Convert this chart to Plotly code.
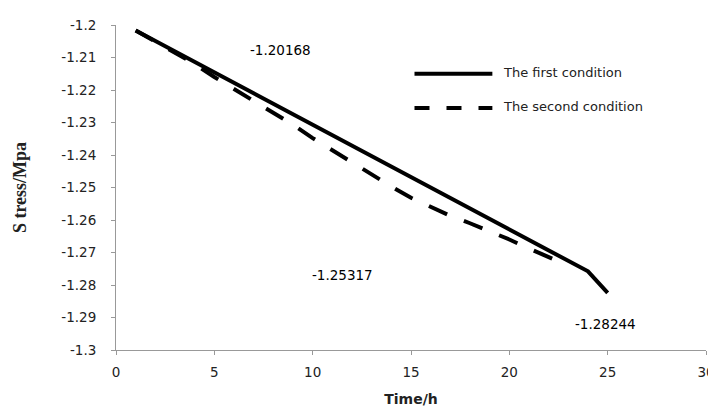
import plotly.graph_objects as go

# Data
time_first = [1, 2, 3, 4, 5, 6, 7, 8, 9, 10, 11, 12, 13, 14, 15, 16, 17, 18, 19, 20, 21, 22, 23, 24, 25]
stress_first = [-1.20168, -1.2049, -1.2081, -1.2113, -1.2146, -1.2178, -1.2210, -1.2242, -1.2274,
                -1.2306, -1.2339, -1.2371, -1.2403, -1.2435, -1.2467, -1.2499, -1.2531, -1.2563,
                -1.2595, -1.2628, -1.2660, -1.2692, -1.2724, -1.2758, -1.28244]

time_second = [1, 2, 3, 4, 5, 6, 7, 8, 9, 10, 11, 12, 13, 14, 15, 16, 17, 18, 19, 20, 21, 22, 23]
stress_second = [-1.20168, -1.2052, -1.2085, -1.2120, -1.2160, -1.2196, -1.2233, -1.2270, -1.2307,
                 -1.2348, -1.2386, -1.2424, -1.2461, -1.2497, -1.25317, -1.2560, -1.2587, -1.2610,
                 -1.2634, -1.2660, -1.2688, -1.2714, -1.2740]

series_names = ["The first condition", "The second condition"]
x_ticks = [0, 5, 10, 15, 20, 25, 30]
y_ticks = [-1.2, -1.21, -1.22, -1.23, -1.24, -1.25, -1.26, -1.27, -1.28, -1.29, -1.3]
y_tick_labels = ["-1.2", "-1.21", "-1.22", "-1.23", "-1.24", "-1.25", "-1.26", "-1.27", "-1.28", "-1.29", "-1.3"]

value_labels = ["-1.20168", "-1.25317", "-1.28244"]
value_label_x = [8.37, 11.52, 24.9]
value_label_y = [-1.2078, -1.2768, -1.2921]

FONT = "DejaVu Sans"
TXT = "#222"

fig = go.Figure()
fig.add_trace(go.Scatter(x=time_first, y=stress_first, mode="lines", name=series_names[0],
                         line=dict(color="black", width=4), showlegend=False))
fig.add_trace(go.Scatter(x=time_second, y=stress_second, mode="lines", name=series_names[1],
                         line=dict(color="black", width=4, dash="20px,18px"), showlegend=False))

for ax, ay, txt in zip(value_label_x, value_label_y, value_labels):
    fig.add_annotation(x=ax, y=ay, xref="x", yref="y", text=txt, showarrow=False,
                       font=dict(family=FONT, size=13.5, color="black"))

# page body has an 8px margin: plot area target is x 116..707, y 17..350 in the window
W, H = 716, 414
OFF = 8
L, R, T, B = 108, 17, 9, 72
pw, ph = W - L - R, H - T - B
def px(xw):
    return (xw - OFF - L) / pw
def py(yw):
    return 1 - (yw - OFF - T) / ph

# custom legend with long sample lines
fig.add_shape(type="line", xref="paper", yref="paper", x0=px(415), x1=px(493), y0=py(67), y1=py(67),
              line=dict(color="black", width=4))
fig.add_shape(type="line", xref="paper", yref="paper", x0=px(415), x1=px(493), y0=py(102), y1=py(102),
              line=dict(color="black", width=4, dash="15px,17px"))
for yw, name in zip([66, 101], series_names):
    fig.add_annotation(x=px(502), y=py(yw), xref="paper", yref="paper", text=name, showarrow=False,
                       xanchor="left", yanchor="middle", font=dict(family=FONT, size=13, color=TXT))

fig.update_layout(
    width=W, height=H,
    margin=dict(l=L, r=R, t=T, b=B),
    paper_bgcolor="white", plot_bgcolor="white",
    showlegend=False,
    font=dict(family=FONT, size=13, color=TXT),
)
fig.update_xaxes(range=[0, 30], tickvals=x_ticks, showgrid=False, zeroline=False,
                 showline=True, linecolor="#999", linewidth=1, ticks="outside", tickcolor="#999",
                 ticklen=4, ticklabelstandoff=6, tickfont=dict(family=FONT, size=13.5, color=TXT),
                 title=dict(text="<b>Time/h</b>", font=dict(family=FONT, size=14, color=TXT), standoff=14))
fig.update_yaxes(range=[-1.3, -1.2], tickvals=y_ticks, ticktext=y_tick_labels, showgrid=False,
                 zeroline=False, showline=True, linecolor="#999", linewidth=1, ticks="outside",
                 tickcolor="#999", ticklen=4, ticklabelstandoff=12,
                 tickfont=dict(family=FONT, size=13.5, color=TXT),
                 title=dict(text="<b>S tress/Mpa</b>",
                            font=dict(family="Liberation Serif", size=18, color=TXT), standoff=30))

fig.write_html("out.html")
